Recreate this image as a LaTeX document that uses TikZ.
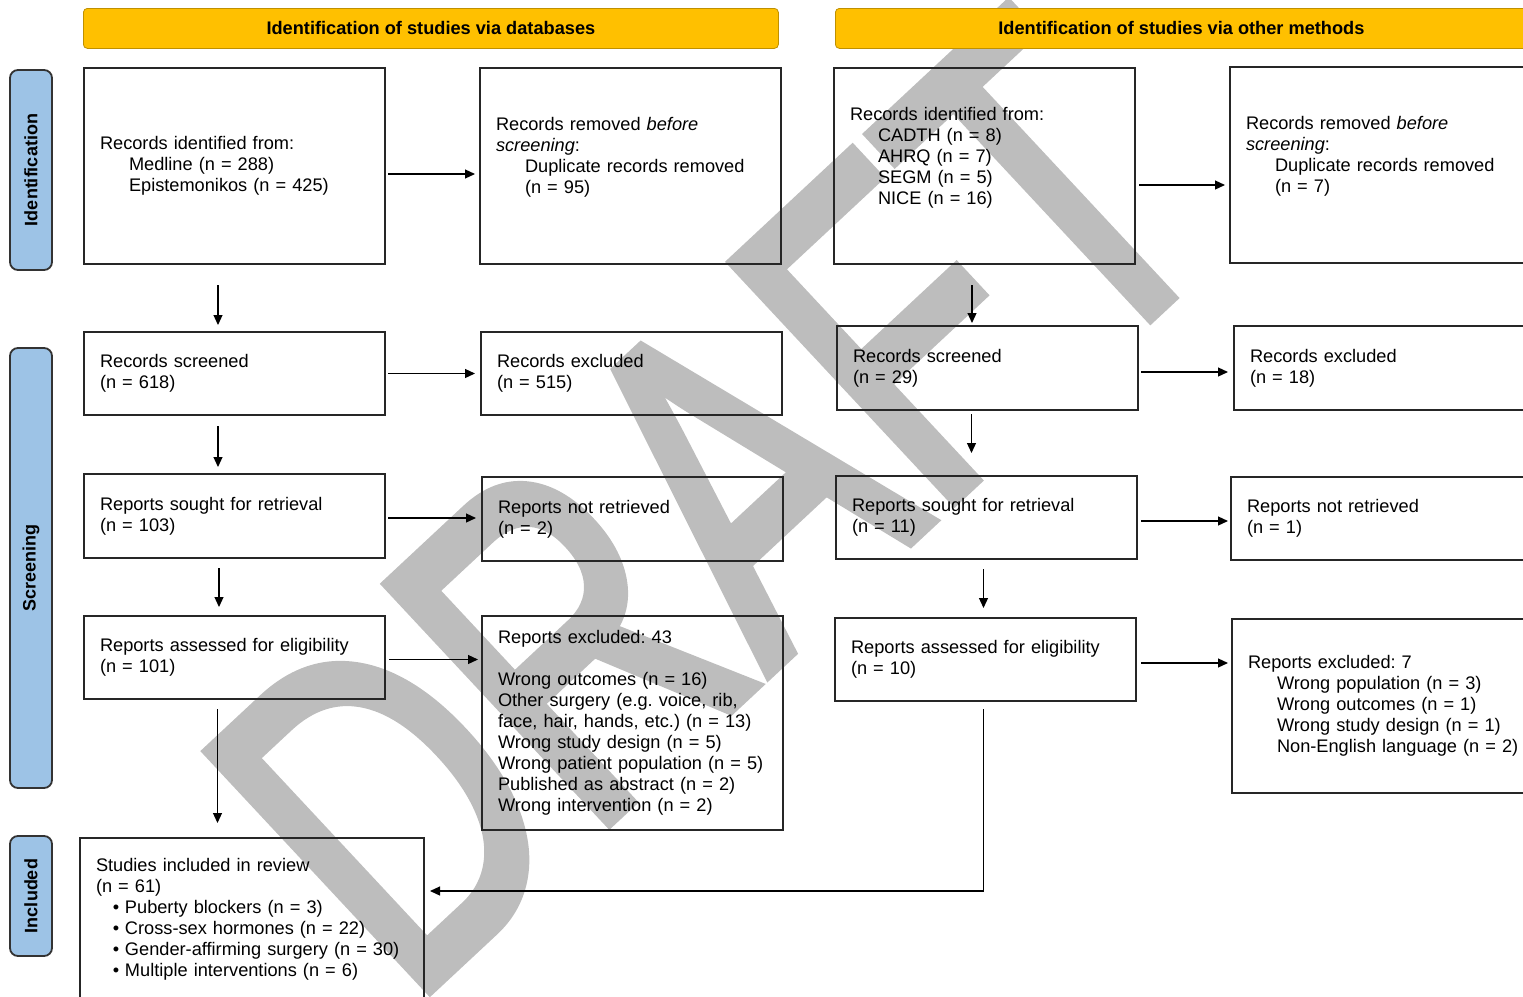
\documentclass[tikz,border=0pt]{standalone}
\usepackage{fontspec}
\setmainfont{Liberation Sans}
\newfontfamily\draftfont{Liberation Sans}[FakeBold=2.5]
\usetikzlibrary{arrows.meta}
\frenchspacing

\definecolor{prismayellow}{RGB}{255,192,0}
\definecolor{prismablue}{RGB}{157,195,230}

\begin{document}
\begin{tikzpicture}[x=0.5pt,y=-0.5pt,
  box/.style={draw=black!85, line width=1pt, align=left, anchor=north west,
    text width=134.5pt, inner xsep=8pt, minimum height=#1,
    font=\fontsize{9.1}{10.5}\selectfont},
  head/.style={fill=prismayellow, draw=prismayellow!75!black, rounded corners=2pt,
    minimum height=20pt, anchor=north west, font=\bfseries\fontsize{9.1}{10.5}\selectfont},
  phase/.style={fill=prismablue, draw=black!80, line width=0.9pt, rounded corners=4pt,
    rotate=90, minimum height=21pt, font=\bfseries\fontsize{9}{10}\selectfont},
  arr/.style={-{Triangle[length=5pt,width=4.5pt]}, line width=0.6pt}]
\useasboundingbox (0,0) rectangle (1523,997);
\clip (0,0) rectangle (1523,997);

% watermark
\node[rotate=43, xscale=0.72, text=black!26, inner sep=0,
  font=\draftfont\fontsize{236}{236}\selectfont] (draft) at (712,504) {DRAFT};

% headers
\node[head, minimum width=347.5pt] (hdb) at (83,8) {Identification of studies via databases};
\node[head, minimum width=346pt] (hot) at (835,8) {Identification of studies via other methods};

% phases
\node[phase, minimum width=100pt] (pid) at (31,170) {Identification};
\node[phase, minimum width=220pt] (pscr) at (31,568) {Screening};
\node[phase, minimum width=60pt] (pinc) at (31,896) {Included};

% databases
\node[box=98pt] (dbid) at (83,67) {Records identified from:\\
  \hspace*{14.5pt}Medline (n = 288)\\
  \hspace*{14.5pt}Epistemonikos (n = 425)};
\node[box=98pt] (dbdup) at (479,67) {Records removed \textit{before}\\
  \textit{screening}:\\
  \hspace*{14.5pt}Duplicate records removed\\
  \hspace*{14.5pt}(n = 95)\\ ~};
\node[box=41.5pt] (dbscr) at (83,331) {Records screened\\(n = 618)};
\node[box=41.5pt] (dbexc) at (480,331) {Records excluded\\(n = 515)};
\node[box=42pt] (dbsought) at (83,473) {Reports sought for retrieval\\(n = 103)};
\node[box=42pt] (dbnot) at (481,476) {Reports not retrieved\\(n = 2)};
\node[box=41.5pt] (dbelig) at (83,615) {Reports assessed for eligibility\\(n = 101)};
\node[box=107pt] (dbrep) at (481,615) {Reports excluded: 43\\[10.5pt]
  Wrong outcomes (n = 16)\\
  Other surgery (e.g. voice, rib,\\
  face, hair, hands, etc.) (n = 13)\\
  Wrong study design (n = 5)\\
  Wrong patient population (n = 5)\\
  Published as abstract (n = 2)\\
  Wrong intervention (n = 2)};
\node[box=81.5pt, text width=156pt] (incl) at (79,837) {Studies included in review\\
  (n = 61)\\
  \hspace*{8.5pt}\makebox[6pt][l]{\textbullet}Puberty blockers (n = 3)\\
  \hspace*{8.5pt}\makebox[6pt][l]{\textbullet}Cross-sex hormones (n = 22)\\
  \hspace*{8.5pt}\makebox[6pt][l]{\textbullet}Gender-affirming surgery (n = 30)\\
  \hspace*{8.5pt}\makebox[6pt][l]{\textbullet}Multiple interventions (n = 6)};

% other methods
\node[box=98pt] (otid) at (833,67) {Records identified from:\\
  \hspace*{14pt}CADTH (n = 8)\\
  \hspace*{14pt}AHRQ (n = 7)\\
  \hspace*{14pt}SEGM (n = 5)\\
  \hspace*{14pt}NICE (n = 16)\\ ~};
\node[box=98pt, text width=150pt] (otdup) at (1229,66) {Records removed \textit{before}\\
  \textit{screening}:\\
  \hspace*{14.5pt}Duplicate records removed\\
  \hspace*{14.5pt}(n = 7)\\ ~};
\node[box=42pt] (otscr) at (836,325) {Records screened\\(n = 29)};
\node[box=42pt, text width=150pt] (otexc) at (1233,325) {Records excluded\\(n = 18)};
\node[box=41.5pt] (otsought) at (835,475) {Reports sought for retrieval\\(n = 11)};
\node[box=41.5pt, text width=150pt] (otnot) at (1230,476) {Reports not retrieved\\(n = 1)};
\node[box=41.5pt] (otelig) at (834,617) {Reports assessed for eligibility\\(n = 10)};
\node[box=87pt, text width=150pt] (otrep) at (1231,618) {Reports excluded: 7\\
  \hspace*{14.5pt}Wrong population (n = 3)\\
  \hspace*{14.5pt}Wrong outcomes (n = 1)\\
  \hspace*{14.5pt}Wrong study design (n = 1)\\
  \hspace*{14.5pt}Non-English language (n = 2)};

% arrows, databases
\draw[arr, shorten <=1pt, shorten >=2pt] ([yshift=-4pt]dbid.east) -- ([yshift=-4pt]dbid.east -| dbdup.west);
\draw[arr, shorten <=10pt, shorten >=3pt] ([xshift=-8.25pt]dbid.south) -- ([xshift=-8.25pt]dbid.south |- dbscr.north);
\draw[arr, shorten <=1pt, shorten >=2.5pt] (dbscr.east) -- (dbscr.east -| dbexc.west);
\draw[arr, shorten <=5pt, shorten >=3pt] ([xshift=-8.25pt]dbscr.south) -- ([xshift=-8.25pt]dbscr.south |- dbsought.north);
\draw[arr, shorten <=1pt, shorten >=2.5pt] ([yshift=-1pt]dbsought.east) -- ([yshift=-1pt]dbsought.east -| dbnot.west);
\draw[arr, shorten <=4.5pt, shorten >=4pt] ([xshift=-7.75pt]dbsought.south) -- ([xshift=-7.75pt]dbsought.south |- dbelig.north);
\draw[arr, shorten <=1.5pt, shorten >=1.5pt] ([yshift=-1pt]dbelig.east) -- ([yshift=-1pt]dbelig.east -| dbrep.west);
\draw[arr, shorten <=4.5pt, shorten >=7pt] ([xshift=-8.5pt]dbelig.south) -- ([xshift=-8.5pt]dbelig.south |- incl.north);

% arrows, other methods
\draw[arr, shorten <=1.5pt, shorten >=2pt] ([yshift=-9.5pt]otid.east) -- ([yshift=-9.5pt]otid.east -| otdup.west);
\draw[arr, shorten <=10pt, shorten >=1pt] ([xshift=-6.25pt]otid.south) -- ([xshift=-6.25pt]otid.south |- otscr.north);
\draw[arr, shorten <=1pt, shorten >=2.5pt] ([yshift=-2pt]otscr.east) -- ([yshift=-2pt]otscr.east -| otexc.west);
\draw[arr, shorten <=1.5pt, shorten >=11pt] ([xshift=-8pt]otscr.south) -- ([xshift=-8pt]otscr.south |- otsought.north);
\draw[arr, shorten <=1.5pt, shorten >=1pt] ([yshift=-1.75pt]otsought.east) -- ([yshift=-1.75pt]otsought.east -| otnot.west);
\draw[arr, shorten <=4.5pt, shorten >=4.5pt] ([xshift=-1.5pt]otsought.south) -- ([xshift=-1.5pt]otsought.south |- otelig.north);
\draw[arr, shorten <=2pt, shorten >=1.5pt] ([yshift=-1.75pt]otelig.east) -- ([yshift=-1.75pt]otelig.east -| otrep.west);
\draw[arr, shorten <=3.5pt, shorten >=2.5pt] ([xshift=-1pt]otelig.south) |- ([yshift=14.25pt]incl.east);
\end{tikzpicture}
\end{document}
